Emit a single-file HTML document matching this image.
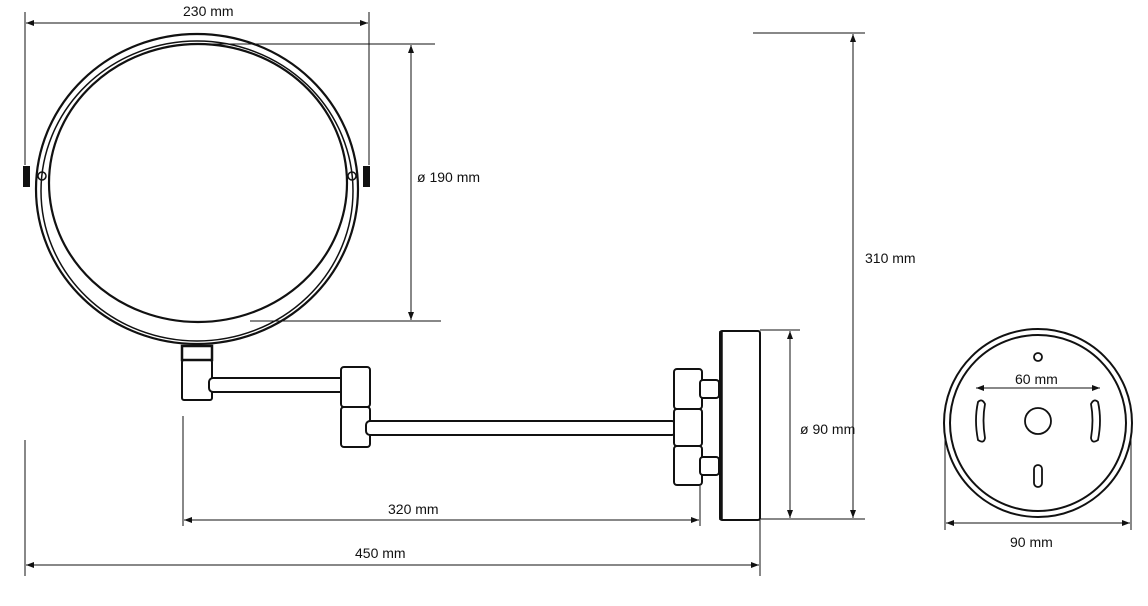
<!DOCTYPE html>
<html><head><meta charset="utf-8"><style>
html,body{margin:0;padding:0;background:#fff;width:1148px;height:606px;overflow:hidden}
text{font-family:"Liberation Sans",sans-serif;font-size:14px;fill:#111}
</style></head><body>
<svg width="1148" height="606" viewBox="0 0 1148 606" xmlns="http://www.w3.org/2000/svg">
<defs>
<marker id="a" markerWidth="8" markerHeight="6" refX="8" refY="3" orient="auto-start-reverse" markerUnits="userSpaceOnUse"><path d="M0,0 L8,3 L0,6 z" fill="#111"/></marker>
</defs>
<g fill="none" stroke="#111">
<!-- mirror -->
<ellipse cx="197" cy="189" rx="161" ry="155" stroke-width="2.2"/>
<ellipse cx="197" cy="191" rx="156" ry="150" stroke-width="1.5"/>
<ellipse cx="198" cy="183" rx="149" ry="139" stroke-width="2.2"/>
<rect x="23" y="166" width="7" height="21" fill="#111" stroke="none"/>
<rect x="363" y="166" width="7" height="21" fill="#111" stroke="none"/>
<circle cx="42" cy="176" r="4" stroke-width="1.5"/>
<circle cx="352" cy="176" r="4" stroke-width="1.5"/>
<!-- holder -->
<rect x="182" y="346" width="30" height="14" stroke-width="2.5"/>
<rect x="182" y="360" width="30" height="40" rx="2" stroke-width="2"/>
<rect x="209" y="378" width="136" height="14" rx="4" stroke-width="2" fill="#fff"/>
<rect x="341" y="367" width="29" height="40" rx="3" stroke-width="2" fill="#fff"/>
<rect x="341" y="407" width="29" height="40" rx="3" stroke-width="2" fill="#fff"/>
<rect x="366" y="421" width="310" height="14" rx="4" stroke-width="2" fill="#fff"/>
<rect x="674" y="369" width="28" height="40" rx="3" stroke-width="2" fill="#fff"/>
<rect x="674" y="409" width="28" height="37" rx="3" stroke-width="2" fill="#fff"/>
<rect x="674" y="446" width="28" height="39" rx="3" stroke-width="2" fill="#fff"/>
<rect x="700" y="380" width="19" height="18" rx="3" stroke-width="2" fill="#fff"/>
<rect x="700" y="457" width="19" height="18" rx="3" stroke-width="2" fill="#fff"/>
<rect x="720" y="331" width="40" height="189" rx="2" stroke-width="2"/>
<line x1="721" y1="331" x2="721" y2="520" stroke-width="3.5"/>
<!-- dimension lines -->
<g stroke-width="1">
<line x1="25" y1="12" x2="25" y2="165"/><line x1="369" y1="12" x2="369" y2="165"/>
<line x1="26" y1="23" x2="368" y2="23" marker-start="url(#a)" marker-end="url(#a)"/>
<line x1="198" y1="44" x2="435" y2="44"/><line x1="250" y1="321" x2="441" y2="321"/>
<line x1="411" y1="45" x2="411" y2="320" marker-start="url(#a)" marker-end="url(#a)"/>
<line x1="753" y1="33" x2="865" y2="33"/><line x1="760" y1="519" x2="865" y2="519"/>
<line x1="853" y1="34" x2="853" y2="518" marker-start="url(#a)" marker-end="url(#a)"/>
<line x1="760" y1="330" x2="800" y2="330"/>
<line x1="790" y1="331" x2="790" y2="518" marker-start="url(#a)" marker-end="url(#a)"/>
<line x1="183" y1="416" x2="183" y2="526"/><line x1="700" y1="486" x2="700" y2="526"/>
<line x1="184" y1="520" x2="699" y2="520" marker-start="url(#a)" marker-end="url(#a)"/>
<line x1="25" y1="440" x2="25" y2="576"/><line x1="760" y1="520" x2="760" y2="576"/>
<line x1="26" y1="565" x2="759" y2="565" marker-start="url(#a)" marker-end="url(#a)"/>
<line x1="945" y1="440" x2="945" y2="530"/><line x1="1131" y1="440" x2="1131" y2="530"/>
<line x1="946" y1="523" x2="1130" y2="523" marker-start="url(#a)" marker-end="url(#a)"/>
<line x1="976" y1="388" x2="1100" y2="388" marker-start="url(#a)" marker-end="url(#a)"/>
</g>
<!-- wall plate view -->
<circle cx="1038" cy="423" r="94" stroke-width="2"/>
<circle cx="1038" cy="423" r="88" stroke-width="2"/>
<circle cx="1038" cy="357" r="4" stroke-width="1.8"/>
<circle cx="1038" cy="421" r="13" stroke-width="1.8"/>
<rect x="1034" y="465" width="8" height="22" rx="4" stroke-width="1.8"/>
<path d="M978,402 Q974,420 978,440 Q984,444 985,438 Q982,420 985,404 Q982,398 978,402 z" stroke-width="1.8"/>
<path d="M1098,402 Q1102,420 1098,440 Q1092,444 1091,438 Q1094,420 1091,404 Q1094,398 1098,402 z" stroke-width="1.8"/>
</g>
<text x="183" y="16">230 mm</text>
<text x="417" y="182">ø 190 mm</text>
<text x="865" y="263">310 mm</text>
<text x="800" y="434">ø 90 mm</text>
<text x="388" y="514">320 mm</text>
<text x="355" y="558">450 mm</text>
<text x="1015" y="384">60 mm</text>
<text x="1010" y="547">90 mm</text>
</svg>
</body></html>
